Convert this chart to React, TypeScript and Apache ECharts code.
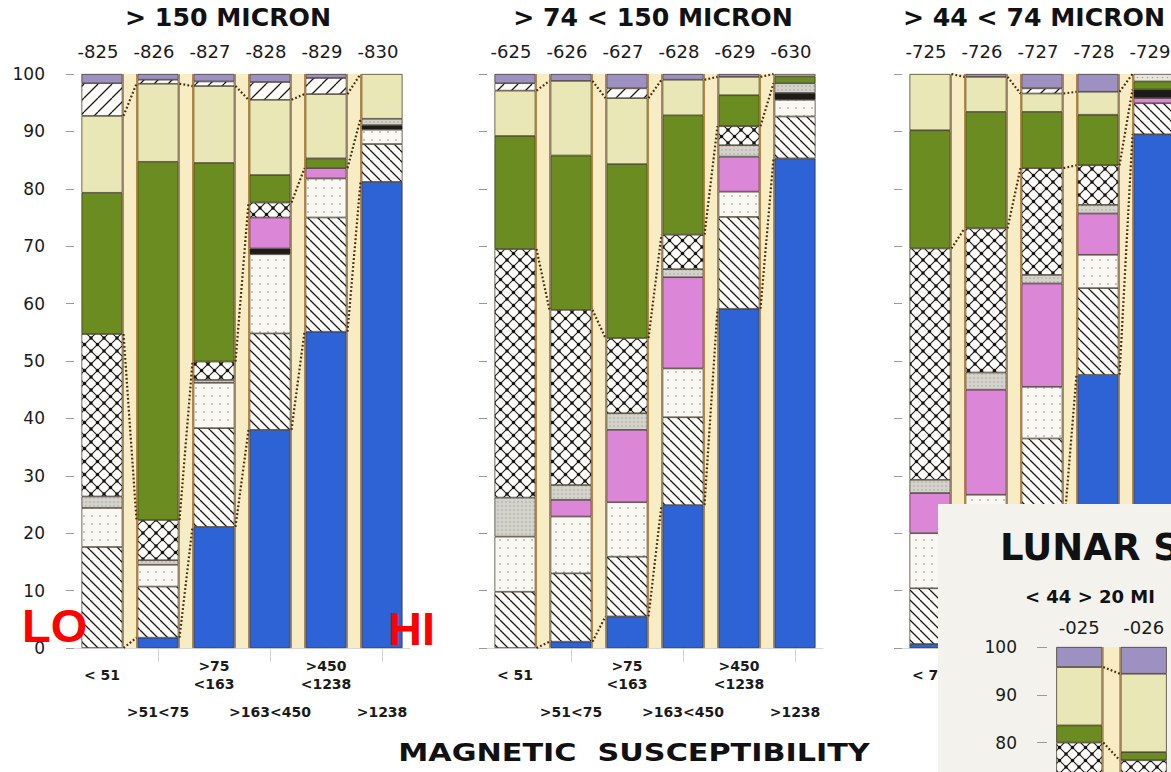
import React, { useEffect, useRef } from 'react';
import * as echarts from 'echarts';

// ---------- categories ----------
const ids150 = ['-825', '-826', '-827', '-828', '-829', '-830'];
const ids74 = ['-625', '-626', '-627', '-628', '-629', '-630'];
const ids44 = ['-725', '-726', '-727', '-728', '-729'];
const idsFine = ['-025', '-026'];

const sizeBins = ['< 51', '>51<75', '>75\n<163', '>163<450', '>450\n<1238', '>1238'];
const sizeBins44 = ['< 75', '', '', '', ''];

const panelTitles = ['> 150 MICRON', '> 74 < 150 MICRON', '> 44 < 74 MICRON'];

// ---------- layer values (percent), rows: >150, >74<150, >44<74 ----------
const blue = [
  [0, 1.8, 21.1, 38.0, 55.1, 81.2],
  [0, 1.1, 5.5, 24.9, 59.1, 85.3],
  [0.7, 1.5, 20.0, 47.6, 89.5],
];
const backHatch = [
  [17.6, 8.9, 17.2, 16.8, 19.9, 6.6],
  [9.8, 11.9, 10.4, 15.3, 16.0, 7.3],
  [9.7, 11.5, 16.5, 15.1, 5.4],
];
const dotted = [
  [6.8, 3.8, 7.9, 13.8, 6.8, 2.5],
  [9.6, 9.9, 9.5, 8.5, 4.4, 2.9],
  [9.6, 13.7, 9.0, 5.8, 0],
];
const blackLow = [
  [0, 0, 0, 1.0, 0, 0.8],
  [0, 0, 0, 0, 0, 1.2],
  [0, 0, 0, 0, 0],
];
const pink = [
  [0, 0, 0, 5.4, 1.8, 0],
  [0, 2.9, 12.6, 15.9, 6.1, 0],
  [7.0, 18.3, 18.0, 7.2, 0.9],
];
const blackHigh = [
  [0, 0, 0, 0, 0, 0],
  [0, 0, 0, 0, 0, 0],
  [0, 0, 0, 0, 1.5],
];
const grayStipple = [
  [2.0, 0.8, 0.5, 0, 0, 1.1],
  [6.8, 2.6, 2.9, 1.4, 2.0, 1.7],
  [2.3, 3.0, 1.5, 1.5, 0],
];
const crossHatch = [
  [28.3, 7.0, 3.2, 2.6, 0, 0],
  [43.3, 30.5, 13.1, 6.0, 3.3, 0],
  [40.3, 25.1, 18.6, 6.9, 0],
];
const darkGreen = [
  [24.6, 62.4, 34.6, 4.8, 1.7, 0],
  [19.7, 26.9, 30.3, 20.8, 5.4, 1.2],
  [20.6, 20.3, 9.8, 8.8, 1.4],
];
const topStipple = [
  [0, 0, 0, 0, 0, 0],
  [0, 0, 0, 0, 0, 0],
  [0, 0, 0, 0, 1.3],
];
const paleYellow = [
  [13.4, 13.6, 13.4, 13.1, 11.2, 7.8],
  [7.9, 13.0, 11.5, 6.2, 3.2, 0.4],
  [9.8, 6.1, 3.2, 4.0, 0],
];
const fwdHatch = [
  [5.7, 0.7, 0.8, 3.1, 2.8, 0],
  [1.3, 0, 1.7, 0, 0, 0],
  [0, 0, 0.9, 0, 0],
];
const lavender = [
  [1.6, 1.0, 1.3, 1.4, 0.7, 0],
  [1.6, 1.2, 2.5, 1.0, 0.5, 0],
  [0, 0.5, 2.5, 3.1, 0],
];

// inset (< 44 > 20 micron), visible top part
const fineCross = [80.0, 76.3];
const fineGreen = [3.6, 1.7];
const finePale = [12.2, 16.4];
const fineLavender = [4.2, 5.6];

const FONT = 'DejaVu Sans';
const TXT = '#1a1a1a';
const CREAM = '#f7ecc4';
const EDGE = '#b88746';
const DOTC = '#4a2c10';
const BORDER = '#33291c';

type Pat = { image: string; imageWidth: number; imageHeight: number; repeat: string };

function tile(w: number, h: number, bg: string, draw: (c: CanvasRenderingContext2D) => void): Pat {
  const cv = document.createElement('canvas');
  cv.width = w;
  cv.height = h;
  const c = cv.getContext('2d') as CanvasRenderingContext2D;
  c.fillStyle = bg;
  c.fillRect(0, 0, w, h);
  draw(c);
  return { image: cv.toDataURL('image/png'), imageWidth: w, imageHeight: h, repeat: 'repeat' };
}

export default function App() {
  const ref = useRef<HTMLDivElement>(null);

  useEffect(() => {
    if (!ref.current) return;
    const chart = echarts.init(ref.current, undefined, { renderer: 'svg' });

    const pBack = tile(10, 10, '#fdfcf8', (c) => {
      c.strokeStyle = '#1b1b1b';
      c.lineWidth = 1.3;
      c.beginPath();
      for (let k = -1; k <= 1; k++) {
        c.moveTo(k * 10, 0);
        c.lineTo(k * 10 + 10, 10);
      }
      c.stroke();
    });
    const pFwd = tile(14, 14, '#fdfcf8', (c) => {
      c.strokeStyle = '#1b1b1b';
      c.lineWidth = 1.3;
      c.beginPath();
      for (let k = -1; k <= 1; k++) {
        c.moveTo(k * 14, 14);
        c.lineTo(k * 14 + 14, 0);
      }
      c.stroke();
    });
    const pCross = tile(13, 13, '#fdfcf8', (c) => {
      c.strokeStyle = '#1b1b1b';
      c.lineWidth = 1.1;
      c.beginPath();
      c.moveTo(0, 0);
      c.lineTo(13, 13);
      c.moveTo(13, 0);
      c.lineTo(0, 13);
      c.stroke();
      c.fillStyle = '#111';
      const pts = [[0, 0], [13, 0], [0, 13], [13, 13], [6.5, 6.5]];
      pts.forEach(([x, y]) => {
        c.beginPath();
        c.arc(x, y, 1.7, 0, Math.PI * 2);
        c.fill();
      });
    });
    const pDot = tile(8, 8, '#f9f8f2', (c) => {
      c.fillStyle = '#b3b3aa';
      c.beginPath();
      c.arc(4, 4, 1.0, 0, Math.PI * 2);
      c.fill();
    });
    const pGray = tile(4, 4, '#d3d3cb', (c) => {
      c.fillStyle = '#a6a69e';
      c.beginPath();
      c.arc(2, 2, 0.8, 0, Math.PI * 2);
      c.fill();
    });
    const pTop = tile(5, 5, '#e6e6de', (c) => {
      c.fillStyle = '#a8a8a0';
      c.beginPath();
      c.arc(2.5, 2.5, 0.8, 0, Math.PI * 2);
      c.fill();
    });

    const BLUE = '#2e63d6';
    const GREEN = '#6a8c20';
    const PALE = '#e8e7b5';
    const PINK = '#db86d6';
    const LAV = '#9d91c1';
    const BLACK = '#1d1b17';

    const layerData = [blue, backHatch, dotted, blackLow, pink, blackHigh, grayStipple, crossHatch, darkGreen, topStipple, paleYellow, fwdHatch, lavender];
    const layerNames = ['blue', 'back hatch', 'dotted', 'black', 'pink', 'black 2', 'gray', 'cross hatch', 'green', 'top stipple', 'pale', 'fwd hatch', 'lavender'];
    const fills: any[] = [BLUE, pBack, pDot, BLACK, PINK, BLACK, pGray, pCross, GREEN, pTop, PALE, pFwd, LAV];

    const panels = [
      { ids: ids150, bins: sizeBins, left: 74, showY: true },
      { ids: ids74, bins: sizeBins, left: 487, showY: false },
      { ids: ids44, bins: sizeBins44, left: 902, showY: false },
    ];

    const cum = (g: number, upto: number, n: number) => {
      const out: (number | null)[] = [];
      for (let i = 0; i < n; i++) {
        let s = 0;
        for (let k = 0; k <= upto; k++) {
          const v = layerData[k][g][i];
          if (v != null) s += v;
        }
        out.push(s);
      }
      return out;
    };

    const gapRenderer = (levels: (number | null)[][], half: number) => (params: any, api: any) => {
      const i = api.value(0) as number;
      const a = api.coord([i, 100]);
      const b = api.coord([i + 1, 0]);
      const xL = a[0] + half;
      const xR = b[0] - half;
      const yT = a[1];
      const yB = b[1];
      const children: any[] = [
        { type: 'rect', shape: { x: xL, y: yT, width: xR - xL, height: yB - yT }, style: { fill: CREAM } },
        { type: 'line', shape: { x1: xL + 0.8, y1: yT, x2: xL + 0.8, y2: yB }, style: { stroke: EDGE, lineWidth: 1.4 } },
        { type: 'line', shape: { x1: xR - 0.8, y1: yT, x2: xR - 0.8, y2: yB }, style: { stroke: EDGE, lineWidth: 1.4 } },
      ];
      levels.forEach((lv) => {
        const v0 = lv[i];
        const v1 = lv[i + 1];
        if (v0 == null || v1 == null) return;
        children.push({
          type: 'line',
          shape: { x1: xL + 1, y1: api.coord([i, v0])[1], x2: xR - 1, y2: api.coord([i + 1, v1])[1] },
          style: { stroke: DOTC, lineWidth: 2.2, lineDash: [1.8, 2.2] },
        });
      });
      return { type: 'group', children };
    };

    const grid: any[] = [];
    const xAxis: any[] = [];
    const yAxis: any[] = [];
    const series: any[] = [];

    const botLabel = {
      interval: 0,
      fontSize: 14,
      fontWeight: 'bold',
      fontFamily: FONT,
      color: TXT,
      lineHeight: 18,
      verticalAlign: 'middle',
    };

    panels.forEach((p, g) => {
      const n = p.ids.length;
      grid.push({ left: p.left, top: 74, width: 56 * n, height: 574, containLabel: false, outerBoundsMode: 'none' });
      xAxis.push({
        type: 'category',
        gridIndex: g,
        position: 'top',
        data: p.ids,
        axisLine: { show: false },
        axisTick: { show: true, alignWithLabel: true, length: 6, lineStyle: { color: '#a8a8a8' } },
        axisLabel: { interval: 0, fontSize: 18, fontFamily: FONT, color: TXT, margin: 23, verticalAlign: 'middle', padding: [0, 8, 0, 0] },
      });
      xAxis.push({
        type: 'category',
        gridIndex: g,
        position: 'bottom',
        data: p.ids,
        axisLine: { show: true, lineStyle: { color: '#d6d6d6' } },
        axisTick: { show: false },
        axisLabel: { ...botLabel, margin: 27, formatter: (_v: string, i: number) => (i % 2 === 0 ? p.bins[i] : '') },
      });
      xAxis.push({
        type: 'category',
        gridIndex: g,
        position: 'bottom',
        data: p.ids,
        axisLine: { show: false },
        axisTick: {
          show: true,
          alignWithLabel: true,
          interval: (i: number) => i % 2 === 1,
          length: 14,
          lineStyle: { color: '#d2d2d2' },
        },
        axisLabel: { ...botLabel, margin: 64, formatter: (_v: string, i: number) => (i % 2 === 1 ? p.bins[i] : '') },
      });
      yAxis.push({
        type: 'value',
        gridIndex: g,
        min: 0,
        max: 100,
        interval: 10,
        axisLine: { show: false },
        axisTick: { show: true, length: 8, lineStyle: { color: '#9a9a9a' } },
        splitLine: { show: false },
        axisLabel: { show: p.showY, fontSize: 17, fontFamily: FONT, color: TXT, margin: 29 },
      });

      layerData.forEach((arr, k) => {
        series.push({
          type: 'bar',
          name: layerNames[k],
          stack: 'p' + g,
          xAxisIndex: 3 * g,
          yAxisIndex: g,
          barWidth: 41,
          silent: true,
          z: 2,
          data: arr[g].map((v) => (v ? v : null)),
          itemStyle: { color: fills[k], borderColor: BORDER, borderWidth: 0.7 },
        });
      });

      const levels = [cum(g, 0, n), cum(g, 7, n), cum(g, 10, n)];
      series.push({
        type: 'custom',
        xAxisIndex: 3 * g,
        yAxisIndex: g,
        z: 1,
        silent: true,
        data: p.ids.slice(0, n - 1).map((_, i) => [i, 0]),
        encode: { x: 0, y: 1 },
        renderItem: gapRenderer(levels, 20.5),
      });
    });

    // inset grid
    grid.push({ left: 1047, top: 647, width: 129, height: 478, containLabel: false, outerBoundsMode: 'none' });
    xAxis.push({
      type: 'category',
      gridIndex: 3,
      position: 'top',
      data: idsFine,
      z: 21,
      axisLine: { show: false },
      axisTick: { show: true, alignWithLabel: true, length: 6, lineStyle: { color: '#a8a8a8' } },
      axisLabel: { interval: 0, fontSize: 18, fontFamily: FONT, color: TXT, margin: 20, verticalAlign: 'middle' },
    });
    yAxis.push({
      type: 'value',
      gridIndex: 3,
      min: 0,
      max: 100,
      interval: 10,
      z: 21,
      axisLine: { show: false },
      axisTick: { show: true, length: 10, lineStyle: { color: '#9a9a9a' } },
      splitLine: { show: false },
      axisLabel: {
        fontSize: 17,
        fontFamily: FONT,
        color: TXT,
        margin: 30,
        formatter: (v: number) => (v >= 80 ? String(v) : ''),
      },
    });
    const fineLayers = [fineCross, fineGreen, finePale, fineLavender];
    const fineFills: any[] = [pCross, GREEN, PALE, LAV];
    fineLayers.forEach((arr, k) => {
      series.push({
        type: 'bar',
        stack: 'fine',
        xAxisIndex: 9,
        yAxisIndex: 3,
        barWidth: 46,
        silent: true,
        z: 20,
        data: arr,
        itemStyle: { color: fineFills[k], borderColor: BORDER, borderWidth: 0.7 },
      });
    });
    const fineCum = (upto: number) =>
      idsFine.map((_, i) => fineLayers.slice(0, upto + 1).reduce((s, a) => s + a[i], 0));
    series.push({
      type: 'custom',
      xAxisIndex: 9,
      yAxisIndex: 3,
      z: 19,
      silent: true,
      data: [[0, 0]],
      encode: { x: 0, y: 1 },
      renderItem: gapRenderer([fineCum(0), fineCum(2)], 23),
    });

    const title = (text: string, x: number) => ({
      type: 'text',
      x,
      y: 18,
      scaleX: 1.05,
      style: { text, fontFamily: FONT, fontSize: 24, fontWeight: 'bold', fill: '#111', align: 'center', verticalAlign: 'middle' },
    });

    const option: any = {
      animation: false,
      backgroundColor: '#ffffff',
      textStyle: { fontFamily: FONT },
      grid,
      xAxis,
      yAxis,
      series,
      graphic: {
        elements: [
          title(panelTitles[0], 228),
          title(panelTitles[1], 653),
          title(panelTitles[2], 1034),
          {
            type: 'text',
            x: 634,
            y: 753,
            scaleX: 1.26,
            style: { text: 'MAGNETIC  SUSCEPTIBILITY', fontFamily: FONT, fontSize: 24, fontWeight: 'bold', fill: '#111', align: 'center', verticalAlign: 'middle' },
          },
          {
            type: 'text',
            x: 22,
            y: 625,
            z: 15,
            style: { text: 'LO', fontFamily: 'Liberation Sans', fontSize: 47, lineHeight: 34, fontWeight: 'bold', fill: '#ff0000', align: 'left', verticalAlign: 'middle' },
          },
          {
            type: 'text',
            x: 388,
            y: 628,
            z: 15,
            style: { text: 'HI', fontFamily: 'Liberation Sans', fontSize: 47, lineHeight: 34, fontWeight: 'bold', fill: '#ff0000', align: 'left', verticalAlign: 'middle' },
          },
          {
            type: 'rect',
            z: 10,
            shape: { x: 938, y: 504, width: 240, height: 280 },
            style: { fill: '#f3f2ed' },
          },
          {
            type: 'text',
            x: 1000,
            y: 547,
            z: 11,
            style: { text: 'LUNAR S', fontFamily: FONT, fontSize: 37, fontWeight: 'bold', fill: '#111', align: 'left', verticalAlign: 'middle' },
          },
          {
            type: 'text',
            x: 1025,
            y: 596,
            z: 11,
            style: { text: '< 44 > 20 MI', fontFamily: FONT, fontSize: 18, fontWeight: 'bold', fill: '#111', align: 'left', verticalAlign: 'middle' },
          },
        ],
      },
    };

    chart.setOption(option);
    return () => chart.dispose();
  }, []);

  return (
    <div
      ref={ref}
      style={{ position: 'fixed', left: 0, top: 0, width: 1171, height: 772, background: '#fff', overflow: 'hidden' }}
    />
  );
}
